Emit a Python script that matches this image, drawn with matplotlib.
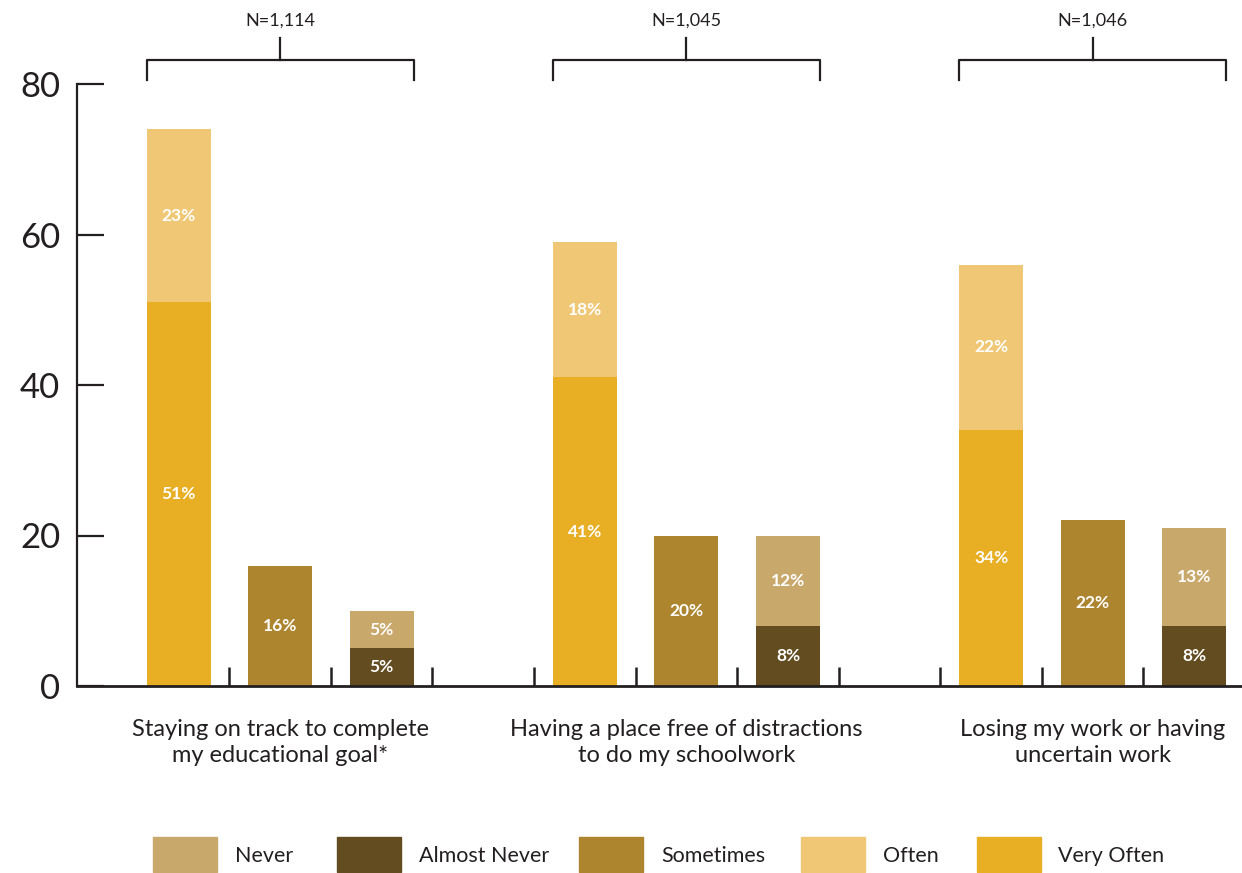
import matplotlib
matplotlib.use("Agg")
import matplotlib.pyplot as plt
from matplotlib.patches import Rectangle
from matplotlib.lines import Line2D
import numpy as np

plt.rcParams['font.family'] = ['Lato', 'DejaVu Sans']

categories = ["Staying on track to complete\nmy educational goal*",
              "Having a place free of distractions\nto do my schoolwork",
              "Losing my work or having\nuncertain work"]
n_labels = ["N=1,114", "N=1,045", "N=1,046"]
very_often = [51, 41, 34]
often = [23, 18, 22]
sometimes = [16, 20, 22]
almost_never = [5, 8, 8]
never = [5, 12, 13]

legend_labels = ["Never", "Almost Never", "Sometimes", "Often", "Very Often"]
colors = {"Never": "#C9A86C", "Almost Never": "#634C1F", "Sometimes": "#AE852F",
          "Often": "#F0C875", "Very Often": "#E8AE24"}
text_color = "#231F20"

fig = plt.figure(figsize=(12.42, 8.73), dpi=100)
ax = fig.add_axes([77/1242, 187/873, 1 - 77/1242, 602/873])

group_pos = np.array([0, 4, 8])
w = 0.63
x1, x2, x3 = group_pos, group_pos + 1, group_pos + 2

def label(xs, bottoms, vals):
    for x, b, v in zip(xs, bottoms, vals):
        ax.text(x, b + v / 2, f"{v}%", ha='center', va='center', color='white',
                fontsize=12.5, fontweight='bold')

ax.bar(x1, very_often, w, color=colors["Very Often"])
ax.bar(x1, often, w, bottom=very_often, color=colors["Often"])
ax.bar(x2, sometimes, w, color=colors["Sometimes"])
ax.bar(x3, almost_never, w, color=colors["Almost Never"])
ax.bar(x3, never, w, bottom=almost_never, color=colors["Never"])
label(x1, [0]*3, very_often)
label(x1, very_often, often)
label(x2, [0]*3, sometimes)
label(x3, [0]*3, almost_never)
label(x3, almost_never, never)

ax.set_xlim(-1.0, 10.47)
ax.set_ylim(0, 80)
for s in ['top', 'right']:
    ax.spines[s].set_visible(False)
ax.spines['left'].set_linewidth(1.6)
ax.spines['left'].set_color(text_color)
ax.spines['bottom'].set_linewidth(2.0)
ax.spines['bottom'].set_color(text_color)

ax.set_yticks([0, 20, 40, 60, 80])
ax.tick_params(axis='y', direction='in', length=19.5, width=1.6, colors=text_color,
               labelsize=25, pad=12)
ax.set_xticks(np.arange(0.5, 10, 1.0))
ax.set_xticklabels([])
ax.tick_params(axis='x', direction='in', length=14, width=1.8, colors=text_color)

for c, cat in zip(x2, categories):
    ax.annotate(cat, xy=(c, 0), xycoords=('data', 'axes fraction'),
                xytext=(0, -23.5), textcoords='offset points', ha='center', va='top',
                fontsize=17, color=text_color, linespacing=1.33)

# brackets with N labels
tr = ax.get_xaxis_transform()
for g, n in zip(group_pos, n_labels):
    left, right, mid = g - w/2, g + 2 + w/2, g + 1
    yh = 1 + 24/602
    ye = 1 + 4/602
    ys = 1 + 46/602
    ax.add_line(Line2D([left, left, right, right], [ye, yh, yh, ye], transform=tr,
                       color=text_color, lw=1.6, clip_on=False))
    ax.add_line(Line2D([mid, mid], [yh, ys], transform=tr, color=text_color,
                       lw=1.6, clip_on=False))
    ax.text(mid, 1 + 63/602, n, transform=tr, ha='center', va='center',
            fontsize=13, color=text_color)

# legend
patch_x = [153, 337, 579, 801, 977]
text_x = [235, 419, 661, 883, 1058]
for lab, px, tx in zip(legend_labels, patch_x, text_x):
    fig.add_artist(Rectangle((px/1242, 1 - 872/873), 64/1242, 35/873,
                             transform=fig.transFigure, color=colors[lab]))
    fig.text(tx/1242, 1 - 856/873, lab, ha='left', va='center', fontsize=15.5,
             color=text_color)

fig.savefig("out.png", dpi=100)
